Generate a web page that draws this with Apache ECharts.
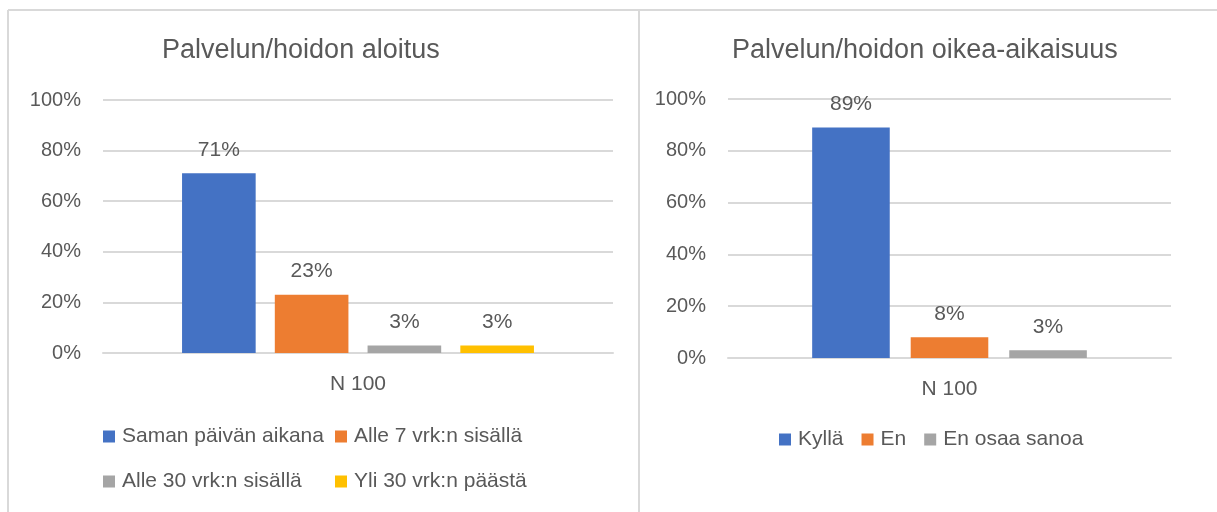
<!DOCTYPE html>
<html>
<head>
<meta charset="utf-8">
<title>Palvelun/hoidon aloitus ja oikea-aikaisuus</title>
<script src="https://cdn.jsdelivr.net/npm/echarts@6.0.0/dist/echarts.min.js"></script>
<style>
    html, body { margin: 0; padding: 0; background: #fff; }
    #main { width: 1217px; height: 512px; }
</style>
</head>
<body>
<div id="main"></div>
<script>
// data
var categories = ['N 100'];
var yTicks = [0, 20, 40, 60, 80, 100];

var startNames = ['Saman päivän aikana', 'Alle 7 vrk:n sisällä', 'Alle 30 vrk:n sisällä', 'Yli 30 vrk:n päästä'];
var startValues = [71, 23, 3, 3];

var timelyNames = ['Kyllä', 'En', 'En osaa sanoa'];
var timelyValues = [89, 8, 3];

var colors = ['#4472C4', '#ED7D31', '#A5A5A5', '#FFC000'];

var font = 'Liberation Sans';
var textColor = '#595959';
var lineColor = '#D9D9D9';

var chartDom = document.getElementById('main');
var myChart = echarts.init(chartDom);
var option;

function yAxisOf(gridIndex) {
    return {
        type: 'value',
        gridIndex: gridIndex,
        min: yTicks[0],
        max: yTicks[yTicks.length - 1],
        interval: yTicks[1] - yTicks[0],
        axisLine: {show: false},
        axisTick: {show: false},
        axisLabel: {
            formatter: '{value}%',
            color: textColor,
            fontFamily: font,
            fontSize: 20,
            margin: 22
        },
        splitLine: {lineStyle: {color: lineColor, width: 2}}
    };
}

function xAxisOf(gridIndex) {
    return {
        type: 'category',
        gridIndex: gridIndex,
        data: categories,
        axisLine: {lineStyle: {color: lineColor, width: 2}},
        axisTick: {show: false},
        axisLabel: {
            color: textColor,
            fontFamily: font,
            fontSize: 21,
            margin: 21
        }
    };
}

function barsOf(names, values, axisIndex, catGap, barGap) {
    return names.map(function (name, i) {
        return {
            name: name,
            type: 'bar',
            xAxisIndex: axisIndex,
            yAxisIndex: axisIndex,
            data: [values[i]],
            itemStyle: {color: colors[i]},
            barGap: barGap,
            barCategoryGap: catGap,
            label: {
                show: true,
                position: 'top',
                distance: 13,
                formatter: '{c}%',
                color: textColor,
                fontFamily: font,
                fontSize: 21
            }
        };
    });
}

function legendOf(names, left, top) {
    return {
        data: names,
        left: left,
        top: top,
        padding: 0,
        itemGap: 18,
        icon: 'rect',
        itemWidth: 12,
        itemHeight: 12,
        selectedMode: false,
        textStyle: {color: textColor, fontFamily: font, fontSize: 21, padding: [0, 0, 0, 2]}
    };
}

option = {
    animation: false,
    backgroundColor: '#fff',
    title: [
        {
            text: 'Palvelun/hoidon aloitus',
            left: 162,
            top: 37,
            padding: 0,
            textStyle: {color: textColor, fontFamily: font, fontSize: 27, fontWeight: 'normal'}
        },
        {
            text: 'Palvelun/hoidon oikea-aikaisuus',
            left: 732,
            top: 37,
            padding: 0,
            textStyle: {color: textColor, fontFamily: font, fontSize: 27, fontWeight: 'normal'}
        }
    ],
    legend: [
        legendOf([startNames[0]], 103, 426),
        legendOf([startNames[1]], 335, 426),
        legendOf([startNames[2]], 103, 471),
        legendOf([startNames[3]], 335, 471),
        legendOf(timelyNames, 779, 429)
    ],
    grid: [
        {left: 103, right: 604, top: 100, bottom: 159, outerBoundsMode: 'none'},
        {left: 728, right: 46, top: 99, bottom: 154, outerBoundsMode: 'none'}
    ],
    xAxis: [xAxisOf(0), xAxisOf(1)],
    yAxis: [yAxisOf(0), yAxisOf(1)],
    series: barsOf(startNames, startValues, 0, '31%', '26%')
        .concat(barsOf(timelyNames, timelyValues, 1, '38%', '27%')),
    graphic: [
        {type: 'line', shape: {x1: 8, y1: 10, x2: 1217, y2: 10}, style: {stroke: lineColor, lineWidth: 2}},
        {type: 'line', shape: {x1: 8, y1: 10, x2: 8, y2: 512}, style: {stroke: lineColor, lineWidth: 2}},
        {type: 'line', shape: {x1: 639, y1: 10, x2: 639, y2: 512}, style: {stroke: lineColor, lineWidth: 2}}
    ]
};

option && myChart.setOption(option);
</script>
</body>
</html>
